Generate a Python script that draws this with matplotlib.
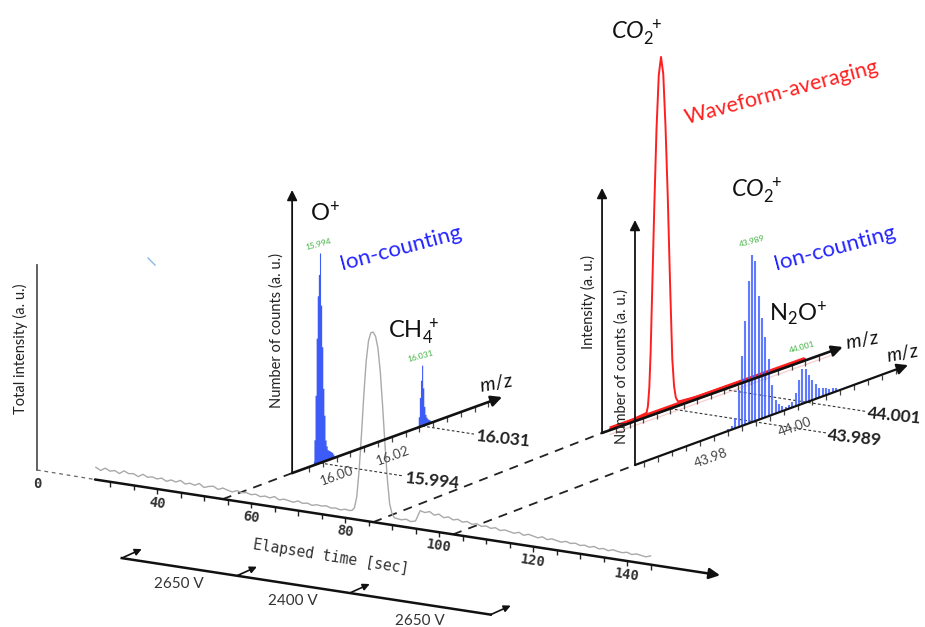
import numpy as np
import matplotlib
matplotlib.use("Agg")
import matplotlib.pyplot as plt
from matplotlib.transforms import Affine2D

plt.rcParams["font.family"] = ["Lato", "DejaVu Sans"]
plt.rcParams["mathtext.fontset"] = "custom"
plt.rcParams["mathtext.rm"] = "Lato"
plt.rcParams["mathtext.it"] = "Lato:italic"
plt.rcParams["mathtext.bf"] = "Lato:bold"

# total ion current (a.u.), 1 s steps, 0.5 s steps across the peak
tic_before = [6.5, 5.2, 6.8, 5.6, 6.3, 5.1, 6.9, 5.8, 6.2, 5.0, 6.6, 5.4, 6.0,
              5.3, 6.1, 4.8, 5.9, 5.2, 6.4, 4.9, 5.7, 5.0, 6.3, 4.6, 5.5, 6.0, 4.7, 5.8, 5.1, 4.5, 5.6, 4.9, 5.3,
              4.6, 5.2, 4.3, 5.0, 4.4, 5.5, 4.1, 4.9, 4.5, 4.0, 5.1, 4.2, 4.7, 3.9, 4.6, 4.3, 4.8, 4.0, 4.4, 3.8, 4.5, 4.2]
tic_peak = [4.5, 6, 12, 26, 45, 66, 84, 95, 99.5, 100, 98, 92, 80, 62, 42, 24, 11, 6, 4, 3.8]
tic_after = [3.5, 4.2, 3.3, 4.0, 9.8, 9.2, 10.1, 8.6, 9.5, 8.0, 8.8, 7.6, 8.3, 7.2, 7.9, 6.8, 7.5, 6.5, 7.1,
             6.2, 6.9, 5.8, 6.5, 6.0, 5.5, 6.4, 5.2, 6.1, 5.6, 5.0, 5.9, 4.8, 5.6, 5.1, 4.6, 5.4, 4.7, 5.2, 4.4,
             4.9, 4.2, 5.0, 4.1, 4.7, 3.9, 4.8, 4.3, 4.0, 4.6, 3.8, 4.5, 4.1, 3.7, 4.6]
tic_t = np.concatenate([27 + np.arange(len(tic_before)),
                        81.5 + 0.5 * np.arange(len(tic_peak)),
                        92 + np.arange(len(tic_after))])
tic_v = np.array(tic_before + tic_peak + tic_after)

time_ticks = np.arange(30, 146, 5)
time_labels = [40, 60, 80, 100, 120, 140]

# MCP voltage schedule
volt_switch_t = [32.5, 57, 81, 111]
volt_labels = ["2650 V", "2400 V", "2650 V"]

# where each spectrum sits on the time axis (ion counting 16, waveform 44, ion counting 44)
spec_t = [54, 86, 103]

# ion counting around m/z 16
o_plus_mz0, ch4_mz0, mz16_step = 15.9916, 16.0294, 0.0004
o_plus_counts = [2, 12, 33, 60, 80, 90, 100, 75, 55, 35, 22, 10, 7, 5, 4.5, 4, 3.5, 3, 2, 1]
ch4_counts = [1, 5, 14, 22, 29, 18, 9, 5, 3.5, 2.5, 2, 1.5, 1]
mz16_ticks = np.arange(15.99, 16.0575, 0.005)
mz16_labels = [16.00, 16.02]

# ion counting around m/z 44 (CO2+ and N2O+)
mz44_mz0, mz44_step = 43.9834, 0.0008
mz44_counts = [1, 2, 6, 22, 42, 62, 85, 100, 96, 74, 60, 48, 34, 18, 8, 5, 3, 2, 2,
               3, 8, 15, 21, 20, 16, 12, 9, 6, 5, 4, 3, 3, 2]
mz44_ticks = np.arange(43.96 + 0.01 / 3, 44.025, 0.01 / 3)
mz44_labels = [43.98, 44.00]

# waveform averaging around m/z 44
wave_mz = [43.9757, 43.9800, 43.9838, 43.9841, 43.9844, 43.9847, 43.9850, 43.9855, 43.9860,
           43.9865, 43.9870, 43.9875, 43.9880, 43.9885, 43.9890, 43.9895, 43.9899, 43.9903,
           43.9908, 43.9950, 44.0190]
wave_int = [0.4, 0.6, 1.2, 3, 8, 18, 33, 58, 80, 95, 100, 95, 80, 60, 36, 14, 6, 2.5, 1.2, 0.7, 0.4]
wave_ticks = np.arange(43.977, 44.0255, 0.003)

BLUE = "#3152f7"
BAR_BLUE = "#4464ff"
RED = "#ff1f1f"
GREEN = "#3db33d"

fig = plt.figure(figsize=(9.25, 6.27), dpi=100)
ax = fig.add_axes([0, 0, 1, 1])


def skew(m0, x0, y0, sx, slope, k):
    # m/z runs up and to the right, counts go straight up (canvas y points down)
    return Affine2D.from_values(sx, -slope * sx, 0, -k, x0 - sx * m0, y0 + slope * sx * m0)


def pt(aff, a, b):
    x, y = aff.transform((a, b))
    return x, y


def arrow(p0, p1, lw=1.5, ms=15, color="#111111"):
    ax.annotate("", xy=p1, xytext=p0,
                arrowprops=dict(arrowstyle="-|>", color=color, lw=lw, mutation_scale=ms,
                                shrinkA=0, shrinkB=0))


time_aff = Affine2D.from_values(4.7, 0.72, 0, -1.9, 157 - 40 * 4.7, 489 - 40 * 0.72)
p16 = skew(15.994, 320, 463, 2760, 0.362, 2.1)
pwave = skew(43.989, 670, 408.7, 4500, 0.357, 3.55)
p44 = skew(43.989, 752, 422.2, 4200, 0.366, 1.67)

# ---- chromatogram ----
ax.plot([37, 37], [265, 470], color="#555555", lw=1.3)
ax.plot([148, 155], [258, 265], color="#8ab8e6", lw=1)
t0 = pt(time_aff, 26.8, 0)
ax.plot([37, t0[0]], [470, t0[1]], color="#666666", lw=0.9, ls=(0, (3, 3)))
ax.text(37, 484, "0", ha="center", va="center", family="DejaVu Sans Mono",
        fontsize=10, color="#333333", fontweight="bold")
ax.text(20, 349, "Total intensity (a. u.)", rotation=90, ha="center", va="center",
        fontsize=10.5, color="#222222")

# connectors from the time axis to each spectrum
for aff, lo, t in zip([p16, pwave, p44], [15.9839, 43.9739, 43.96114], spec_t):
    a = pt(time_aff, t, 0)
    b = pt(aff, lo, 0)
    ax.plot([a[0], b[0]], [a[1], b[1]], color="#222222", lw=1.3, ls=(0, (5, 4)))

ax.plot(tic_t, tic_v, transform=time_aff + ax.transData, color="#a9a9a9", lw=1)
arrow(t0, pt(time_aff, 159.8, 0), lw=1.8, ms=16)
ax.vlines(time_ticks, -5 / 1.9, 0, transform=time_aff + ax.transData, color="#222222", lw=1)
for t in time_labels:
    x, y = pt(time_aff, t, 0)
    ax.text(x, y + 14, str(t), ha="center", va="center", rotation=-8.7,
            family="DejaVu Sans Mono", fontsize=10, color="#333333", fontweight="bold")
ax.text(331, 557, "Elapsed time [sec]", ha="center", va="center", rotation=-9,
        family="DejaVu Sans Mono", fontsize=10.5, color="#333333")

# voltage schedule, drawn along a copy of the time axis
volt_aff = Affine2D.from_values(4.7, 0.72, 0, -1.9, 157 - 40 * 4.7, 489 - 40 * 0.72 + 74.5)
ax.plot([volt_switch_t[0], volt_switch_t[-1]], [0, 0], transform=volt_aff + ax.transData,
        color="#111111", lw=1.8)
for t in volt_switch_t:
    x, y = pt(volt_aff, t, 0)
    arrow((x, y), (x + 20, y - 9), lw=1.2, ms=10)
for t_a, t_b, lab in zip(volt_switch_t[:-1], volt_switch_t[1:], volt_labels):
    x, y = pt(volt_aff, (t_a + t_b) / 2, 0)
    ax.text(x, y + 17, lab, ha="center", va="center", fontsize=11, color="#333333")

# ---- ion counting, m/z 16 ----
base = pt(p16, 15.9839, 0)
arrow(base, (base[0], 190), lw=1.3, ms=15)
tip = pt(p16, 16.0600, 0)
ax.vlines(mz16_ticks, -5 / 2.1, 0, transform=p16 + ax.transData, color="#444444", lw=0.9)
arrow(base, tip, lw=1.9, ms=16)
ax.text(tip[0] - 6, tip[1] - 14, r"$\mathit{m/z}$", fontsize=14, rotation=10,
        ha="center", va="center", color="#111111")
for m in mz16_labels:
    x, y = pt(p16, m, 0)
    ax.text(x, y + 18, r"$\mathit{%.2f}$" % m, ha="center", va="center", rotation=20,
            fontsize=9.5, color="#444444")
for mz0, counts in [(o_plus_mz0, o_plus_counts), (ch4_mz0, ch4_counts)]:
    mz = mz0 + mz16_step * np.arange(len(counts))
    ax.fill_between(mz, 0, counts, step="mid", transform=p16 + ax.transData,
                    color=BLUE, lw=0, alpha=0.95)
    i = int(np.argmax(counts))
    x, y = pt(p16, mz[i], counts[i])
    ax.text(x - 2, y - 9, f"{mz[i]:.3f}", ha="center", va="center", rotation=15,
            fontsize=6, color=GREEN)
ax.text(277, 330, "Number of counts (a. u.)", rotation=90, ha="center", va="center",
        fontsize=10.5, color="#222222")

# dotted guides to the exact masses
for aff, mz_list, ends in [(p16, [15.994, 16.031], [403, 474]),
                           (pwave, [43.989, 44.001], [826, 866])]:
    for m, xe in zip(mz_list, ends):
        x, y = pt(aff, m, 0)
        ye = y + 0.155 * (xe - x)
        ax.plot([x, xe], [y, ye], color="#333333", lw=0.8, ls=(0, (2.5, 2)))
        ax.text(xe + 2, ye + 2, f"{m:.3f}", ha="left", va="center", rotation=-6,
                rotation_mode="anchor", fontsize=12.5, fontweight="bold", color="#222222")

# ---- waveform averaging, m/z 44 ----
base = pt(pwave, 43.9739, 0)
arrow(base, (base[0], 188), lw=1.3, ms=15)
tip = pt(pwave, 44.0274, 0)
ax.plot([43.9757, 44.025], [-1.2, -1.2], transform=pwave + ax.transData,
        color="#f4b4b4", lw=1, alpha=0.6)
ax.vlines(wave_ticks, -5 / 3.55, 0, transform=pwave + ax.transData, color="#444444", lw=0.9)
arrow(base, tip, lw=1.9, ms=16)
ax.text(tip[0] + 19, tip[1] - 7, r"$\mathit{m/z}$", fontsize=14, rotation=10,
        ha="center", va="center", color="#111111")
ax.plot(wave_mz, wave_int, transform=pwave + ax.transData, color=RED, lw=1.4)
ax.plot([wave_mz[0], wave_mz[-1]], [wave_int[0], wave_int[-1]],
        transform=pwave + ax.transData, color=RED, lw=3.2, solid_capstyle="butt")
ax.text(588, 302, "Intensity (a. u.)", rotation=90, ha="center", va="center",
        fontsize=10.5, color="#222222")

# ---- ion counting, m/z 44 ----
base = pt(p44, 43.96114, 0)
arrow(base, (base[0], 220), lw=1.3, ms=15)
tip = pt(p44, 44.02614, 0)
ax.vlines(mz44_ticks, -5 / 1.67, 0, transform=p44 + ax.transData, color="#444444", lw=0.9)
arrow(base, tip, lw=1.6, ms=16)
ax.text(tip[0] - 5, tip[1] - 12, r"$\mathit{m/z}$", fontsize=13.5, rotation=10,
        ha="center", va="center", color="#111111")
for m in mz44_labels:
    x, y = pt(p44, m, 0)
    ax.text(x - 4, y + 21, r"$\mathit{%.2f}$" % m, ha="center", va="center", rotation=20,
            fontsize=9.5, color="#444444")
mz44 = mz44_mz0 + mz44_step * np.arange(len(mz44_counts))
ax.vlines(mz44, 0, mz44_counts, transform=p44 + ax.transData, color=BAR_BLUE, lw=1.5, alpha=0.85)
for m in [43.989, 44.001]:
    i = int(np.argmin(np.abs(mz44 - m)))
    x, y = pt(p44, mz44[i], mz44_counts[i])
    dy = -14 if mz44_counts[i] > 50 else -22
    ax.text(x, y + dy, f"{m:.3f}", ha="center", va="center", rotation=15,
            fontsize=6, color=GREEN)
ax.text(622, 367, "Number of counts (a. u.)", rotation=90, ha="center", va="center",
        fontsize=10.5, color="#222222")

# ---- species and mode labels ----
ax.text(325, 212, r"$\mathregular{O^{+}}$", ha="center", va="center", fontsize=17, color="#111111")
ax.text(414, 332, r"$\mathregular{CH_4^{\ +}}$", ha="center", va="center", fontsize=17, color="#111111")
ax.text(637, 33, r"$\mathit{CO_2^{\ +}}$", ha="center", va="center", fontsize=17, color="#111111")
ax.text(757, 191, r"$\mathit{CO_2^{\ +}}$", ha="center", va="center", fontsize=17, color="#111111")
ax.text(798, 314, r"$\mathregular{N_2O^{+}}$", ha="center", va="center", fontsize=17, color="#111111")
ax.text(401, 248, "Ion-counting", ha="center", va="center", rotation=15, fontsize=16, color="#2323ff")
ax.text(835, 248, "Ion-counting", ha="center", va="center", rotation=15, fontsize=16, color="#2323ff")
ax.text(782, 92, "Waveform-averaging", ha="center", va="center", rotation=15, fontsize=15.5, color=RED)

ax.set_xlim(0, 925)
ax.set_ylim(627, 0)
ax.axis("off")
fig.savefig("out.png", dpi=100)
